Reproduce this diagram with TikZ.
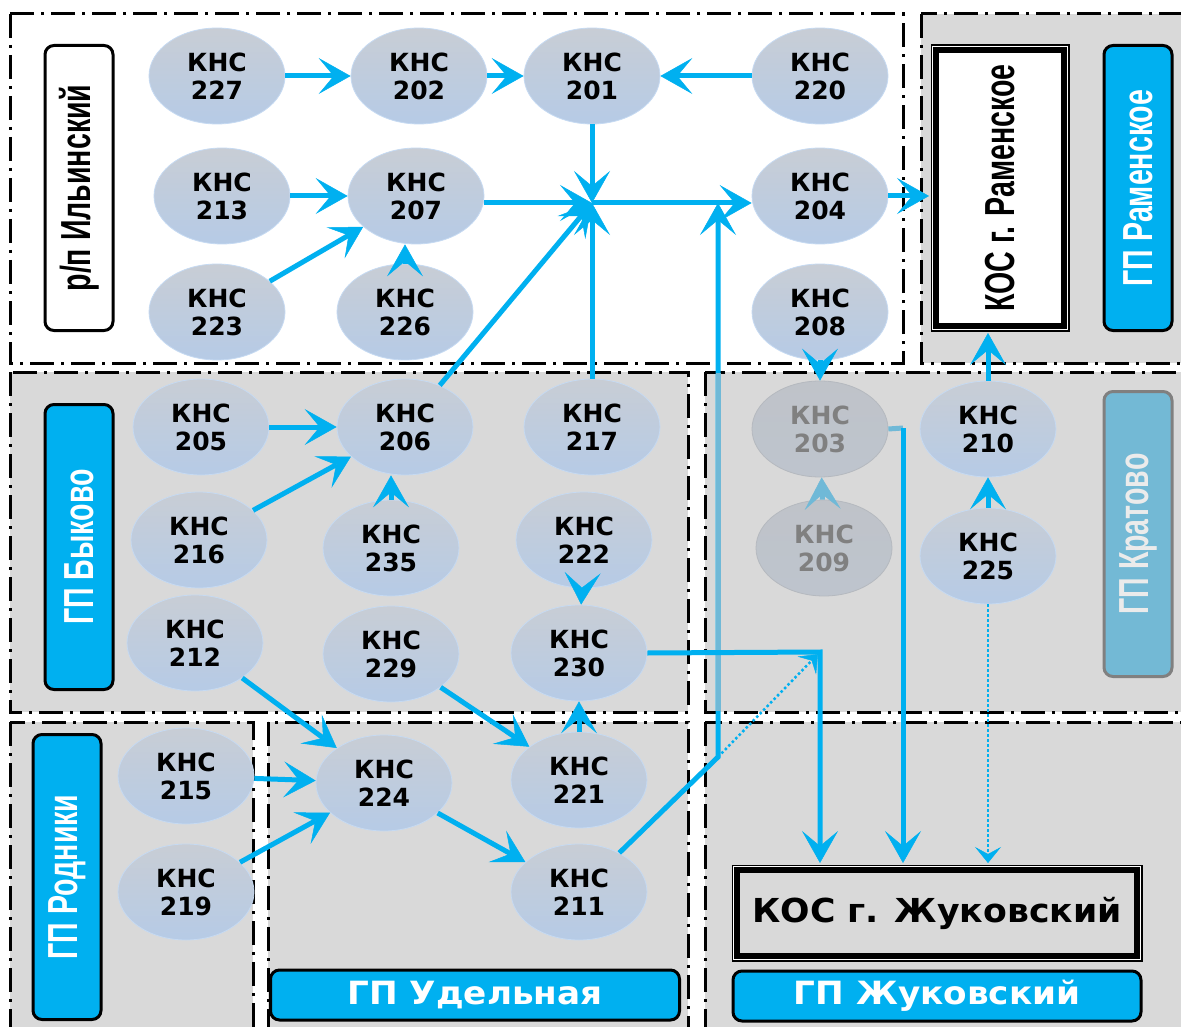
\documentclass[tikz,border=0pt]{standalone}
\usepackage{fontspec}
\usepackage{graphicx}
\setmainfont{DejaVu Sans}
\newfontfamily\narrowfont{Liberation Sans}
\usetikzlibrary{shapes.geometric,arrows.meta}
\definecolor{kblue}{HTML}{00B0F0}
\definecolor{kmuted}{HTML}{70B9D7}
\definecolor{kzone}{HTML}{D9D9D9}
\definecolor{ktop}{HTML}{C8CDD5}
\definecolor{kbot}{HTML}{B6CBE6}
\definecolor{kedge}{HTML}{C6DAF2}
\definecolor{kfade}{HTML}{BFC3C9}
\definecolor{kkrat}{HTML}{73B9D5}
\tikzset{
 kns/.style={ellipse,minimum width=136pt,minimum height=96pt,inner sep=0pt,top color=ktop,bottom color=kbot,draw=kedge,line width=0.8pt,align=center,font=\bfseries\fontsize{25}{28}\selectfont},
 fkns/.style={kns,top color=kfade,bottom color=kfade!85!kbot,draw=kfade!95!black,text=black!50},
 zone/.style={line width=3pt,dash pattern=on 24pt off 7pt on 3pt off 7pt},
 arr/.style={draw=kblue,line width=5pt,-{Stealth[length=32pt,width=36pt,inset=15pt,line width=0.5pt]}},
 line/.style={draw=kblue,line width=5pt},
 dotarr/.style={draw=kblue,line width=2.5pt,dash pattern=on 2.5pt off 2.5pt,-{Stealth[length=16pt,width=26pt,inset=7pt,line width=0.5pt]}},
 vlab/.style={rotate=90,rounded corners=9pt,draw,line width=3pt,minimum width=285pt,minimum height=68pt,fill=kblue,text=white,font=\narrowfont\bfseries\fontsize{42}{42}\selectfont},
 hlab/.style={rounded corners=9pt,draw,line width=3pt,minimum height=50pt,fill=kblue,text=white,font=\bfseries\fontsize{32}{32}\selectfont},
 kos/.style={draw,line width=6pt,preaction={draw,line width=11pt},preaction={draw=white,line width=8pt},fill=white}
}
\begin{document}
\begin{tikzpicture}[x=1pt,y=-1pt]
\useasboundingbox (0,0) rectangle (1181,1027);
\clip (0,0) rectangle (1181,1027);
\fill[white] (0,0) rectangle (1181,1027);
% zones
\draw[zone,fill=white] (10,14) rectangle (903,363);
\foreach \a/\b/\c/\d in {921/14/1195/363,10/372/688/712,705/372/1195/712,10/722/253/1040,268/722/688/1040,705/722/1195/1040}{\draw[zone,fill=kzone] (\a,\b) rectangle (\c,\d);}
% labels
\node[vlab,fill=white,text=black] (lil) at (79,188) {\scalebox{0.68}[1]{р/п Ильинский}};
\node[vlab] (lram) at (1138,188) {\scalebox{0.68}[1]{ГП Раменское}};
\node[vlab] (lbyk) at (79,547) {\scalebox{0.68}[1]{ГП Быково}};
\node[vlab,fill=kkrat,draw=black!50,text=black!8] (lkrat) at (1138,534) {\scalebox{0.68}[1]{ГП Кратово}};
\node[vlab] (lrod) at (67,877) {\scalebox{0.68}[1]{ГП Родники}};
\node[hlab,minimum width=409pt] (lude) at (475,995) {\raisebox{-3pt}{\scalebox{1.07}[1]{ГП Удельная}}};
\node[hlab,minimum width=408pt] (lzhu) at (937,996) {\raisebox{-3pt}{\scalebox{1.07}[1]{ГП Жуковский}}};
\node[kos,rotate=90,minimum width=276pt,minimum height=128pt,font=\narrowfont\bfseries\fontsize{42}{42}\selectfont] (kr) at (1000,188) {\scalebox{0.68}[1]{КОС г. Раменское}};
\node[kos,fill=kzone,minimum width=400pt,minimum height=86pt,font=\bfseries\fontsize{33}{33}\selectfont] (kzh) at (937,913) {\scalebox{1.05}[1]{КОС г. Жуковский}};
% stations
\foreach \n/\x/\y in {227/217/76,202/419/76,201/592/76,220/820/76,213/222/196,207/416/196,204/820/196,223/217/312,226/405/312,208/820/312,
 205/201/427,206/405/427,217/592/427,216/199/540,235/391/548,222/584/540,212/195/643,229/391/654,230/579/653,210/988/429,225/988/556,
 215/186/776,224/384/783,221/579/780,219/186/892,211/579/892}{\node[kns] (k\n) at (\x,\y) {КНС\\\n};}
\node[fkns] (k203) at (820,429) {КНС\\203};
\node[fkns] (k209) at (824,548) {КНС\\209};
\coordinate (jn) at (592,203); \coordinate (mrg) at (718,203); \coordinate (bnd) at (718,757);
\coordinate (c230) at (820,652); \coordinate (c203) at (903,428);
% pipes
\draw[arr] (k227)--(k202); \draw[arr] (k202)--(k201); \draw[arr] (k220)--(k201);
\draw[arr] (k213)--(k207); \draw[arr] (k223)--(k207); \draw[arr] (k226.north)--(k226.north|-k207.south);
\draw[arr] (k201)--(jn); \draw[arr] (k207.east|-jn)--(jn); \draw[arr] (k206)--(jn); \draw[arr] (k217)--(jn);
\draw[arr] (jn)--(k204.west|-jn); \draw[arr,shorten >=4pt] (k204.east)--(k204.east-|kr.north);
\draw[arr] (k211)--(bnd)--(mrg); \draw[line,draw=kmuted] (718,373)--(718,711);
\draw[dotarr,shorten >=3pt] (bnd)--(c230);
\draw[arr,shorten >=4pt] (k230.east)--(c230)--(c230|-kzh.north);
\draw[line,draw=kmuted] (k203.east)--(c203); \draw[arr,shorten >=4pt] (c203)--(c203|-kzh.north);
\draw[dotarr,shorten >=4pt] (k225)--(k225|-kzh.north);
\draw[arr] (k225)--(k210); \draw[arr,shorten >=4pt] (k210.north)--(k210.north|-kr.west);
\draw[arr] (k208)--(k203); \draw[arr,draw=kmuted] (k209)--(k203);
\draw[arr] (k205)--(k206); \draw[arr] (k216)--(k206); \draw[arr] (k235.north)--(k235.north|-k206.south);
\draw[arr] (k222)--(k230); \draw[arr] (k221)--(k230); \draw[arr] (k229)--(k221);
\draw[arr] (k212)--(k224); \draw[arr] (k215)--(k224); \draw[arr] (k219)--(k224); \draw[arr] (k224)--(k211);
\end{tikzpicture}
\end{document}
